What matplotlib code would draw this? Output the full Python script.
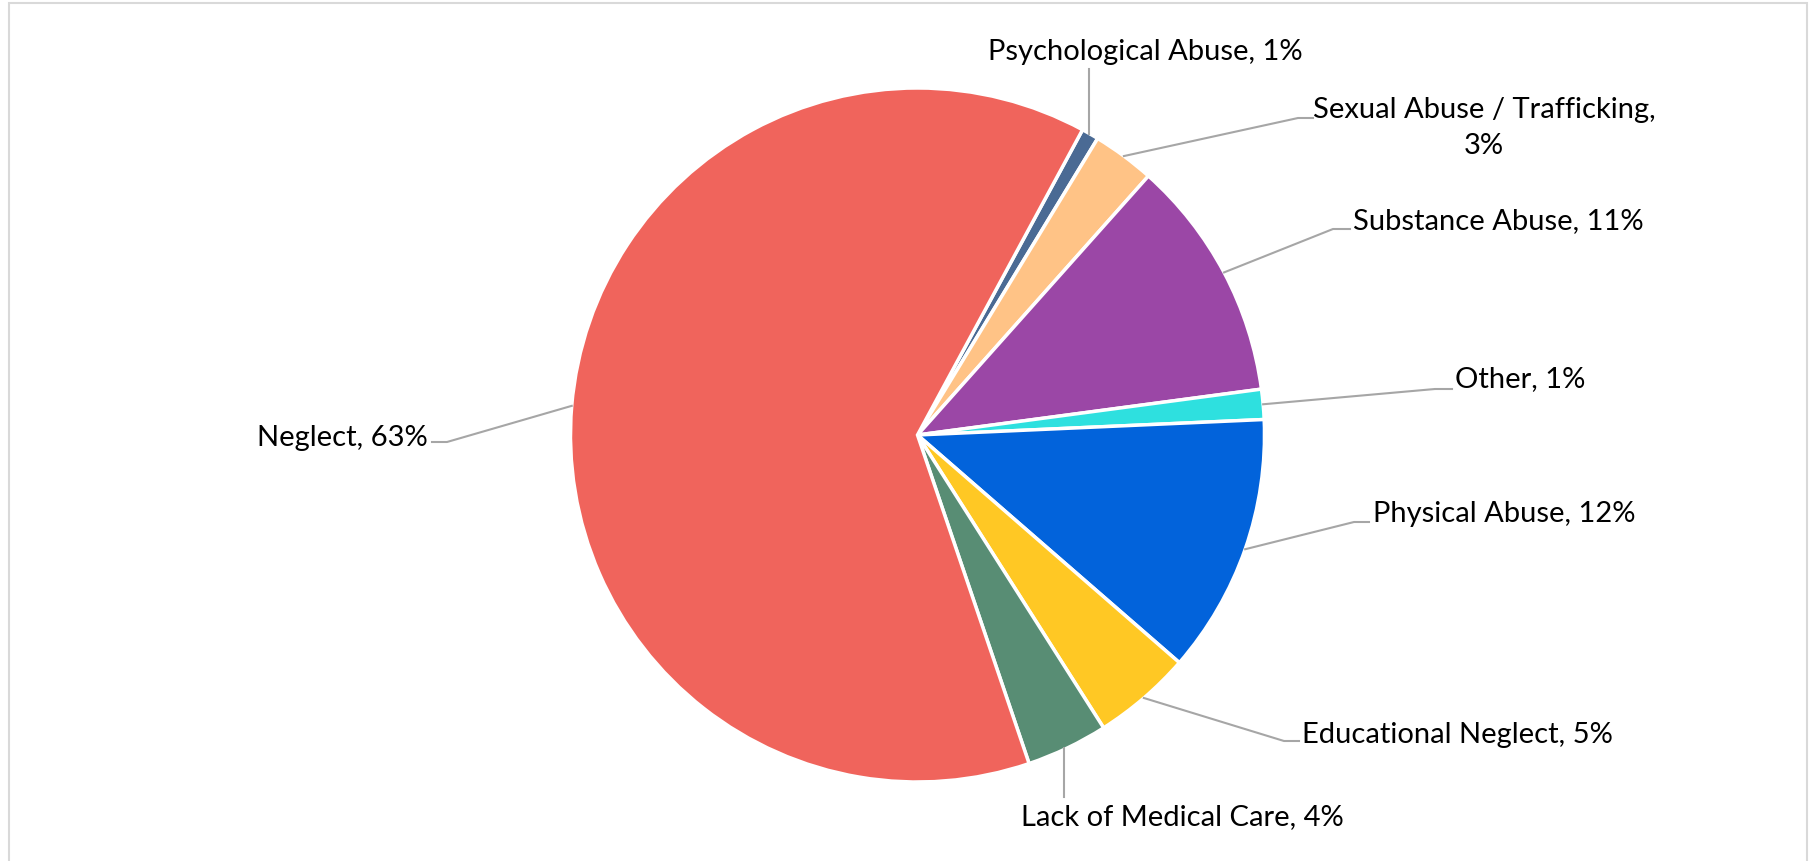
import numpy as np
import matplotlib.pyplot as plt
from matplotlib.patches import Rectangle

W, H = 1814, 862

categories = ['Psychological Abuse', 'Sexual Abuse / Trafficking', 'Substance Abuse',
              'Other', 'Physical Abuse', 'Educational Neglect',
              'Lack of Medical Care', 'Neglect']
values = [0.8, 2.9, 11.3, 1.4, 12.1, 4.6, 3.8, 63.1]
colors = ['#4A6A94', '#FFC386', '#9B47A6', '#2EE0DF', '#0263DB', '#FFC824',
          '#588D74', '#F0645C']

# label layout in pixels (from top-left): text anchor, alignment, elbow points
label_pos = [
    ((1145, 52), 'center', [(1089, 70)]),
    ((1484, 128), 'center', [(1298, 119), (1313, 119)]),
    ((1353, 221), 'left', [(1333, 230), (1350, 230)]),
    ((1455, 379), 'left', [(1435, 390), (1452, 390)]),
    ((1373, 514), 'left', [(1354, 523), (1369, 523)]),
    ((1302, 735), 'left', [(1284, 742), (1299, 742)]),
    ((1182, 817), 'center', [(1064, 798)]),
    ((428, 438), 'right', [(447, 443), (432, 443)]),
]

plt.rcParams['font.family'] = ['Lato', 'DejaVu Sans']

fig = plt.figure(figsize=(W/100, H/100), dpi=100)
fig.patches.append(Rectangle((9/W, -0.01), (W-16)/W, 1.01 - 4/H, transform=fig.transFigure,
                             fill=False, edgecolor='#D9D9D9', linewidth=1.5))

cx, cy, r = 917.5, 436, 347
ax = fig.add_axes([(cx-r)/W, (H-cy-r)/H, 2*r/W, 2*r/H])
start = 90 - 28.4
wedges, _ = ax.pie(values, colors=colors, startangle=start, counterclock=False,
                   radius=1, wedgeprops=dict(edgecolor='white', linewidth=2.5))
ax.set_xlim(-1, 1)
ax.set_ylim(-1, 1)
ax.axis('off')

def fpix(x, y):
    return x/W, 1 - y/H

for w, cat, val, (tp, ha, elbow) in zip(wedges, categories, values, label_pos):
    mid = np.deg2rad((w.theta1 + w.theta2) / 2)
    x0 = cx + r*np.cos(mid)
    y0 = cy - r*np.sin(mid)
    pts = [(x0, y0)] + elbow
    if len(elbow) == 1:
        pts = [(elbow[0][0], y0), elbow[0]]
    xs, ys = zip(*[fpix(*p) for p in pts])
    fig.add_artist(plt.Line2D(xs, ys, color='#A6A6A6', linewidth=1.5,
                              transform=fig.transFigure))
    txt = '%s, %d%%' % (cat, round(val))
    if cat.startswith('Sexual'):
        txt = '%s,\n%d%%' % (cat, round(val))
    fig.text(*fpix(*tp), txt, ha=ha, va='center', fontsize=21, color='black',
             multialignment='center', linespacing=1.5)

fig.savefig('out.png', dpi=100, facecolor='white')
